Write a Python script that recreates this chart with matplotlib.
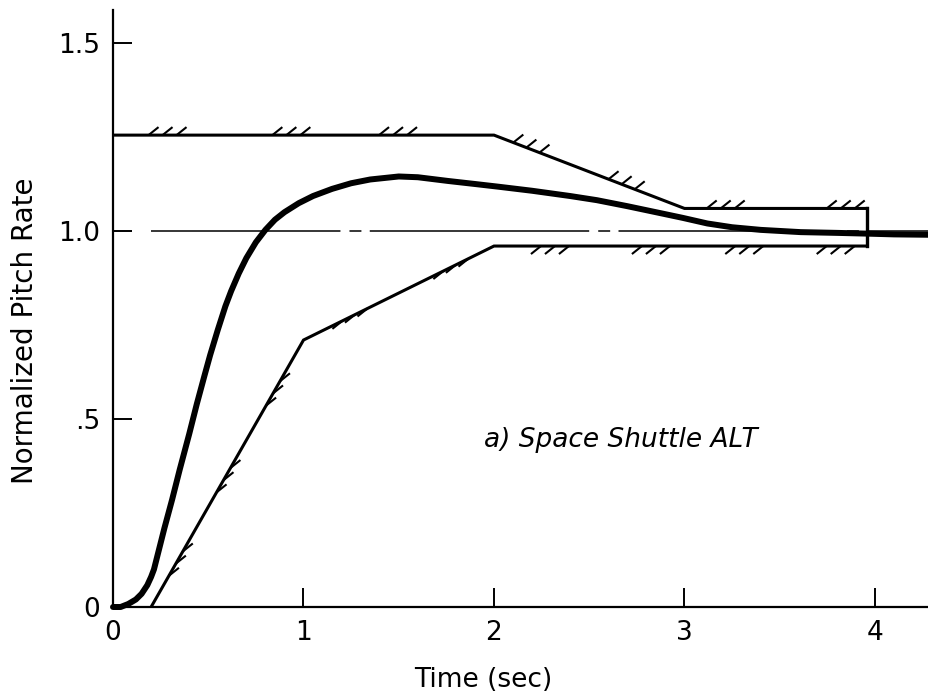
import numpy as np
import matplotlib
matplotlib.use("Agg")
import matplotlib.pyplot as plt

# ---------------- data ----------------
time_resp = [0.0, 0.04, 0.08, 0.12, 0.15, 0.18, 0.20, 0.215, 0.23, 0.27, 0.31,
             0.35, 0.40, 0.44, 0.48, 0.51, 0.55, 0.59, 0.62, 0.66, 0.70, 0.75,
             0.80, 0.85, 0.90, 0.975, 1.05, 1.15, 1.25, 1.35, 1.50, 1.60, 1.76,
             1.90, 2.02, 2.20, 2.40, 2.54, 2.70, 2.85, 2.99, 3.12, 3.25, 3.40,
             3.61, 3.80, 3.96, 4.10, 4.28]
rate_resp = [0.0, 0.0, 0.008, 0.02, 0.035, 0.058, 0.08, 0.10, 0.13, 0.21, 0.285,
             0.365, 0.46, 0.54, 0.615, 0.67, 0.737, 0.80, 0.84, 0.887, 0.928, 0.97,
             1.003, 1.03, 1.05, 1.074, 1.093, 1.112, 1.127, 1.137, 1.145, 1.143, 1.133,
             1.125, 1.118, 1.107, 1.093, 1.082, 1.066, 1.05, 1.035, 1.02, 1.01, 1.003,
             0.997, 0.995, 0.993, 0.991, 0.99]

upper_x = [0.0, 2.0, 3.0, 3.96]
upper_y = [1.255, 1.255, 1.06, 1.06]
lower_x = [0.2, 1.0, 2.0, 3.96]
lower_y = [0.0, 0.71, 0.96, 0.96]

ref_level = 1.0
ref_start = 0.2

upper_hatch_x = [0.26, 0.91, 1.47, 2.17, 2.67, 3.19, 3.82]
lower_hatch_x = [0.33, 0.58, 0.84, 1.27, 1.80, 2.32, 2.85, 3.34, 3.82]

x_ticks = [0, 1, 2, 3, 4]
x_tick_labels = ["0", "1", "2", "3", "4"]
y_ticks = [0, 0.5, 1.0, 1.5]
y_tick_labels = ["0", ".5", "1.0", "1.5"]

annotation = "a) Space Shuttle ALT"
x_label = "Time (sec)"
y_label = "Normalized Pitch Rate"

# ---------------- figure ----------------
plt.rcParams['font.family'] = ['DejaVu Sans']
plt.rcParams['lines.scale_dashes'] = False

W, H = 929, 695
fig = plt.figure(figsize=(W / 100, H / 100), dpi=100)
ax = fig.add_axes([113 / W, 88 / H, 816 / W, 597 / H])
ax.set_xlim(0, 816 / 190.5)
ax.set_ylim(0, 597 / 376)

for s in ['top', 'right']:
    ax.spines[s].set_visible(False)
for s in ['left', 'bottom']:
    ax.spines[s].set_linewidth(1.6)

ax.set_xticks(x_ticks)
ax.set_xticklabels(x_tick_labels)
ax.set_yticks(y_ticks)
ax.set_yticklabels(y_tick_labels)
ax.tick_params(direction='in', length=14, width=1.4, labelsize=19, pad=9, colors='black')

ax.set_xlabel(x_label, fontsize=19, va='center')
ax.xaxis.set_label_coords((483 - 113) / 816, (607 - 680) / 597)
ax.set_ylabel(y_label, fontsize=20, va='center')
ax.yaxis.set_label_coords((25 - 113) / 816, (607 - 331) / 597)

# reference line (dash-dot style)
ax.plot([ref_start, ax.get_xlim()[1]], [ref_level, ref_level], color='black', lw=1.1,
        linestyle=(21.6, (158, 6.5, 8.6, 6.0)), solid_capstyle='butt', clip_on=False)

# boundaries
ax.plot(upper_x, upper_y, color='black', lw=2.2, solid_joinstyle='miter', zorder=3)
ax.plot(lower_x, lower_y, color='black', lw=2.2, solid_joinstyle='miter', zorder=3)
ax.plot([upper_x[-1], lower_x[-1]], [upper_y[-1], lower_y[-1]], color='black', lw=2.4, zorder=3)

# hatches
def hatch(xs_line, ys_line, centers, side):
    xs_line = np.asarray(xs_line, float)
    ys_line = np.asarray(ys_line, float)
    pts = ax.transData.transform(np.column_stack([xs_line, ys_line]))
    inv = ax.transData.inverted()
    v = np.array([10.0, 8.0])
    for c in centers:
        yc = np.interp(c, xs_line, ys_line)
        p = ax.transData.transform((c, yc))
        i = int(np.clip(np.searchsorted(xs_line, c) - 1, 0, len(xs_line) - 2))
        t = pts[i + 1] - pts[i]
        t = t / np.linalg.norm(t)
        if side == 'below':
            n = np.array([t[1], -t[0]])
        else:
            n = np.array([-t[1], t[0]])
        for k in (-1, 0, 1):
            a = p + k * 14.0 * t
            if v @ n > 0:
                seg = np.array([a, a + v])
            else:
                seg = np.array([a - v, a])
            d = inv.transform(seg)
            ax.plot(d[:, 0], d[:, 1], color='black', lw=1.5, solid_capstyle='butt', zorder=3)

hatch(upper_x, upper_y, upper_hatch_x, 'above')
hatch(lower_x, lower_y, lower_hatch_x, 'below')

# response
ax.plot(time_resp, rate_resp, color='black', lw=4.3, solid_joinstyle='round',
        solid_capstyle='round', zorder=4, clip_on=False)

ax.text(1.95, 0.444, annotation, fontsize=19, style='italic', ha='left', va='center')

fig.savefig('out.png', dpi=100, facecolor='white')
